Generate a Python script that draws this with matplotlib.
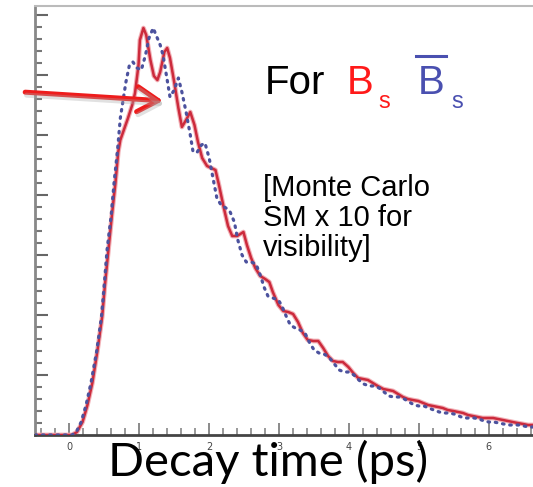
import numpy as np
import matplotlib.pyplot as plt
from matplotlib.lines import Line2D

# decay time (ps) and counts for B_s (red, solid)
t_bs = [-0.49, 0.04, 0.11, 0.19, 0.26, 0.33, 0.40, 0.47, 0.51, 0.56, 0.61, 0.66, 0.70, 0.73, 0.79, 0.84,
        0.90, 0.94, 0.99, 1.01, 1.06, 1.10, 1.16, 1.21, 1.26, 1.30, 1.36, 1.40, 1.44, 1.50, 1.56, 1.61,
        1.67, 1.73, 1.79, 1.84, 1.90, 1.97, 2.03, 2.09, 2.14, 2.21, 2.27, 2.33, 2.40, 2.49, 2.54, 2.60,
        2.66, 2.73, 2.80, 2.86, 2.91, 2.99, 3.06, 3.13, 3.20, 3.27, 3.34, 3.41, 3.49, 3.56, 3.63, 3.70,
        3.77, 3.84, 3.91, 3.99, 4.06, 4.13, 4.20, 4.27, 4.34, 4.41, 4.49, 4.56, 4.63, 4.70, 4.77, 4.84,
        4.91, 4.99, 5.06, 5.13, 5.20, 5.27, 5.34, 5.41, 5.49, 5.56, 5.63, 5.70, 5.77, 5.84, 5.91, 5.99,
        6.06, 6.13, 6.20, 6.27, 6.34, 6.41, 6.49, 6.56, 6.63]
n_bs = [0, 0, 3, 13, 30, 52, 83, 118, 150, 185, 220, 252, 283, 295, 307, 317,
        330, 342, 370, 395, 407, 400, 375, 359, 355, 363, 383, 387, 377, 353, 327, 308,
        315, 323, 310, 293, 277, 269, 267, 265, 250, 227, 209, 199, 199, 203, 190, 177,
        167, 159, 156, 153, 143, 130, 124, 123, 121, 113, 102, 95, 94, 94, 87, 79,
        74, 73, 73, 68, 62, 57, 56, 55, 52, 49, 46, 45, 44, 41, 38, 36,
        35, 34, 32, 30, 29, 28, 27, 25, 24, 23, 22, 20, 19, 18, 17, 17,
        17, 16, 15, 14, 13, 12, 11, 10, 10]

# decay time (ps) and counts for anti-B_s (blue, dotted)
t_bsbar = [-0.49, 0.04, 0.10, 0.17, 0.24, 0.31, 0.39, 0.46, 0.50, 0.54, 0.60, 0.64, 0.69, 0.73, 0.77, 0.81,
           0.86, 0.91, 0.97, 1.03, 1.09, 1.14, 1.20, 1.24, 1.30, 1.34, 1.40, 1.44, 1.50, 1.56, 1.61, 1.67,
           1.73, 1.77, 1.83, 1.89, 1.94, 2.00, 2.06, 2.11, 2.17, 2.24, 2.30, 2.36, 2.41, 2.47, 2.53, 2.60,
           2.67, 2.73, 2.79, 2.84, 2.91, 2.99, 3.04, 3.10, 3.16, 3.23, 3.30, 3.37, 3.43, 3.50, 3.57, 3.64,
           3.71, 3.79, 3.86, 3.93, 4.00, 4.07, 4.14, 4.21, 4.29, 4.36, 4.43, 4.50, 4.57, 4.64, 4.71, 4.79,
           4.86, 4.93, 5.00, 5.07, 5.14, 5.21, 5.29, 5.36, 5.43, 5.50, 5.57, 5.64, 5.71, 5.79, 5.86, 5.93,
           6.00, 6.07, 6.14, 6.21, 6.29, 6.36, 6.43, 6.50, 6.57, 6.63]
n_bsbar = [0, 0, 3, 13, 30, 52, 83, 118, 150, 185, 220, 252, 285, 317, 335, 353,
           370, 373, 367, 365, 380, 397, 407, 400, 390, 380, 355, 338, 345, 357, 343, 323,
           300, 283, 283, 290, 292, 277, 255, 237, 230, 227, 223, 213, 195, 180, 173, 173,
           171, 160, 147, 139, 137, 135, 129, 119, 110, 107, 105, 102, 93, 85, 82, 81,
           78, 71, 65, 63, 63, 60, 55, 51, 49, 49, 47, 43, 39, 38, 38, 36,
           33, 30, 29, 29, 27, 25, 23, 22, 22, 21, 19, 17, 17, 17, 16, 14,
           13, 13, 12, 11, 10, 10, 10, 9, 8, 8]

xticks = [0, 1, 2, 3, 4, 5, 6]

W, H = 533, 487
fig = plt.figure(figsize=(W / 100, H / 100), dpi=100)
ax = fig.add_axes([35 / W, 52 / H, 498 / W, 429 / H])

ax.plot(t_bs, n_bs, color='#f2b0b6', lw=3.4, solid_joinstyle='round', zorder=2)
ax.plot(t_bs, n_bs, color='#cc2a3c', lw=1.8, solid_joinstyle='round', zorder=3)
ax.plot(t_bsbar, n_bsbar, color='#4c529e', lw=2.3, ls=(0, (0.5, 1.8)),
        dash_capstyle='round', zorder=4)

ax.set_xlim(-0.49, 6.63)
ax.set_ylim(0, 429)
ax.set_xticks(xticks)
ax.set_xticks(np.arange(-0.4, 6.7, 0.2), minor=True)
ax.set_yticks(np.arange(0, 430, 60))
ax.set_yticks(np.arange(0, 430, 12), minor=True)
ax.set_yticklabels([])
ax.tick_params(axis='x', which='major', direction='in', length=9, width=1.2,
               colors='#777777', labelcolor='#444444', labelsize=7, pad=5)
ax.tick_params(axis='x', which='minor', direction='in', length=5, width=1.2, colors='#888888')
ax.tick_params(axis='y', which='major', direction='in', length=9, width=1.5, colors='#666666')
ax.tick_params(axis='y', which='minor', direction='in', length=5, width=1.5, colors='#777777')
ax.spines['right'].set_visible(False)
ax.spines['top'].set_color('#bbbbbb')
ax.spines['top'].set_linewidth(1.5)
ax.spines['left'].set_color('#888888')
ax.spines['left'].set_linewidth(2)
ax.spines['bottom'].set_color('#444444')
ax.spines['bottom'].set_linewidth(2)

# red arrow pointing at the oscillation, with a faint shadow
for dx, dy, col, a in [(0.02, -3, '#aaaaaa', 0.35), (0, 0, '#ee1c1c', 1.0)]:
    ax.annotate('', xy=(1.38 + dx, 334 + dy), xytext=(-0.67 + dx, 343 + dy),
                arrowprops=dict(arrowstyle='->,head_length=0.75,head_width=0.45',
                                color=col, lw=3.6, alpha=a, mutation_scale=20),
                annotation_clip=False, zorder=6 - a)

fs_big = 29
fig.text(265 / W, 1 - 94 / H, 'For', fontsize=fs_big, family='Liberation Sans',
         color='black', va='baseline')
fig.text(347 / W, 1 - 94 / H, 'B', fontsize=fs_big, family='Liberation Sans',
         color='#ff1a1a', va='baseline')
fig.text(378 / W, 1 - 108 / H, 's', fontsize=17, family='Liberation Sans',
         color='#ff1a1a', va='baseline')
fig.text(418 / W, 1 - 94 / H, 'B', fontsize=fs_big, family='Liberation Sans',
         color='#4a50b0', va='baseline')
fig.text(451 / W, 1 - 108 / H, 's', fontsize=17, family='Liberation Sans',
         color='#4a50b0', va='baseline')
fig.add_artist(Line2D([416 / W, 446 / W], [1 - 56 / H, 1 - 56 / H],
                      transform=fig.transFigure, color='#4a50b0', lw=2.2))

fig.text(263 / W, 1 - 256 / H, '[Monte Carlo\nSM x 10 for\nvisibility]', fontsize=21,
         family='Liberation Sans', color='black', va='baseline', linespacing=1.1)

fig.text(268 / W, 1 - 476 / H, 'Decay time (ps)', fontsize=34, family='Lato',
         color='black', ha='center', va='baseline')

fig.savefig('out.png', dpi=100)
